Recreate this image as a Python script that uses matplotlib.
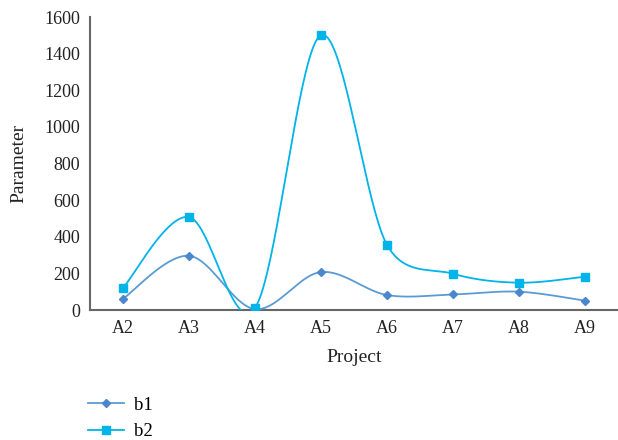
import numpy as np
import matplotlib
matplotlib.use("Agg")
import matplotlib.pyplot as plt
from matplotlib.lines import Line2D

categories = ["A2", "A3", "A4", "A5", "A6", "A7", "A8", "A9"]
b1 = [60, 296, 5, 207, 82, 85, 100, 51]
b2 = [118, 508, 10, 1500, 357, 198, 149, 182]

plt.rcParams['font.family'] = ['Liberation Serif', 'DejaVu Serif']

W, H = 618, 440
fig = plt.figure(figsize=(W / 100, H / 100), dpi=100)
ax = fig.add_axes([89.7 / W, 1 - 310 / H, 1 - 89.7 / W, (310 - 17) / H])
ax.set_xlim(-0.5, 7.5)
ax.set_ylim(0, 1600)

# screen scale for smoothing (Excel-like smooth line in pixel space)
sx = (W - 89.7) / 8.0
sy = (310 - 17) / 1600.0


def smooth(xs, ys, n=40):
    P = np.column_stack([np.asarray(xs, float) * sx, np.asarray(ys, float) * sy])
    out = []
    m = len(P)
    f = 1.0 / 6.0
    for i in range(m - 1):
        p0 = P[i - 1] if i > 0 else P[i]
        p1 = P[i]
        p2 = P[i + 1]
        p3 = P[i + 2] if i + 2 < m else P[i + 1]
        d02 = np.hypot(*(p2 - p0))
        d12 = np.hypot(*(p2 - p1))
        d13 = np.hypot(*(p3 - p1))
        f0 = f if d02 * f < d12 / 2 else d12 / (2 * d02)
        f1 = f if d13 * f < d12 / 2 else d12 / (2 * d13)
        c1 = p1 + (p2 - p0) * f0
        c2 = p2 - (p3 - p1) * f1
        t = np.linspace(0, 1, n)[:, None]
        seg = ((1 - t) ** 3) * p1 + 3 * ((1 - t) ** 2) * t * c1 + 3 * (1 - t) * t ** 2 * c2 + t ** 3 * p2
        out.append(seg if i == 0 else seg[1:])
    pts = np.vstack(out)
    return pts[:, 0] / sx, pts[:, 1] / sy

x = np.arange(len(categories))

c1_line, c1_mark = '#5b9bd5', '#4a87cc'
c2_line, c2_mark = '#00b4ea', '#00b4ea'

xs, ys = smooth(x, b1)
ax.plot(xs, ys, color=c1_line, lw=1.3, zorder=3)
ax.plot(x, b1, ls='none', marker='D', ms=4.5, color=c1_mark, zorder=4)
xs, ys = smooth(x, b2)
ax.plot(xs, ys, color=c2_line, lw=1.3, zorder=3)
ax.plot(x, b2, ls='none', marker='s', ms=6, color=c2_mark, zorder=4)

ax.set_xticks(x)
ax.set_xticklabels(categories)
ax.set_yticks(np.arange(0, 1601, 200))
ax.tick_params(axis='both', length=0, labelsize=13, colors='#222222')
ax.tick_params(axis='y', pad=7)
ax.tick_params(axis='x', pad=7)
for s in ['top', 'right']:
    ax.spines[s].set_visible(False)
for s in ['left', 'bottom']:
    ax.spines[s].set_color('#666666')
    ax.spines[s].set_linewidth(1.5)
ax.set_xlabel("Project", fontsize=14, color='#222222', labelpad=9)
ax.set_ylabel("Parameter", fontsize=14, color='#222222', labelpad=12)

handles = [Line2D([], [], color=c1_line, lw=1.3, marker='D', ms=4.5, mfc=c1_mark, mec=c1_mark),
           Line2D([], [], color=c2_line, lw=1.3, marker='s', ms=6, mfc=c2_mark, mec=c2_mark)]
fig.legend(handles, ["b1", "b2"], loc='upper left', bbox_to_anchor=(82 / W, 1 - 391 / H),
           frameon=False, fontsize=13.5, handlelength=1.95, labelspacing=0.5, handletextpad=0.55,
           borderaxespad=0, borderpad=0.3)

fig.savefig("out.png", dpi=100)
